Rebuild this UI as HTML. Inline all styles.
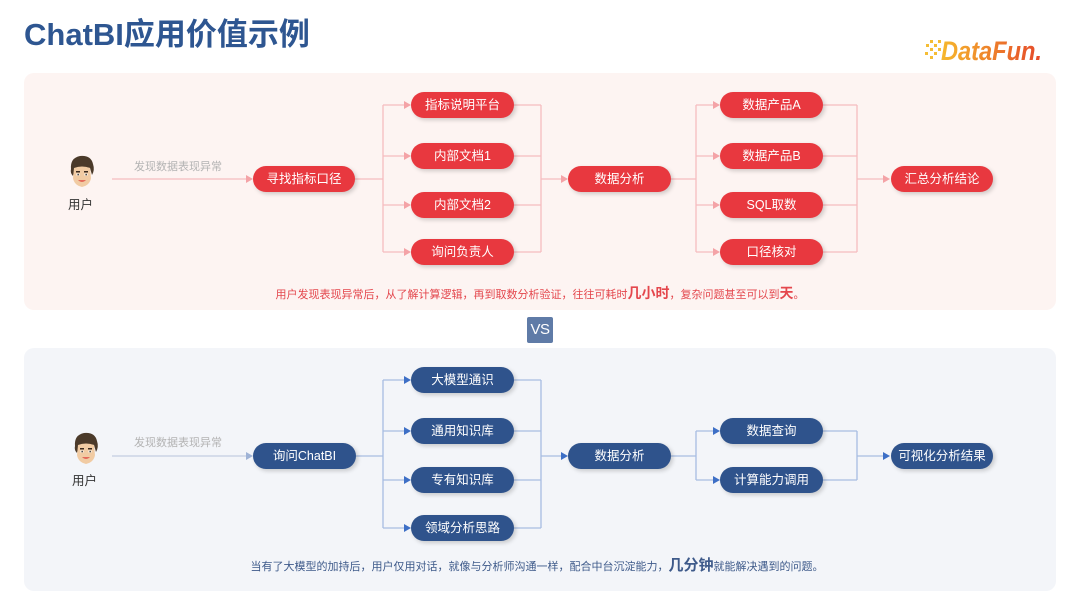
<!DOCTYPE html>
<html><head><meta charset="utf-8">
<style>
*{margin:0;padding:0;box-sizing:border-box}
body{width:1080px;height:608px;background:#fff;position:relative;overflow:hidden;font-family:"Liberation Sans","Noto Sans CJK SC",sans-serif}
.abs{position:absolute}
.panel{position:absolute;border-radius:10px}
.n{position:absolute;height:26px;border-radius:13px;color:#fff;font-size:12.5px;line-height:26px;text-align:center;white-space:nowrap;box-shadow:2px 2px 4px rgba(0,0,0,0.18)}
.r{background:#e8383f}
.b{background:#2f538c}
.lbl{position:absolute;font-size:11px;color:#b3b3b3;white-space:nowrap}
.user{position:absolute;font-size:12.5px;color:#333;white-space:nowrap}
</style></head>
<body>
<div class="abs" style="left:24px;top:15px;font-size:31px;font-weight:bold;color:#2e5691;white-space:nowrap;line-height:40px">ChatBI应用价值示例</div>

<!-- logo -->
<svg class="abs" style="left:920px;top:30px" width="130" height="40" viewBox="0 0 130 40">
<defs><linearGradient id="lg" x1="0" x2="1" y1="0" y2="0"><stop offset="0" stop-color="#f6b82c"/><stop offset="1" stop-color="#e5482a"/></linearGradient></defs>
<g fill="#f5bd35">
<rect x="6" y="14" width="3" height="3"/><rect x="10" y="10" width="3" height="3"/><rect x="14" y="14" width="3" height="3"/>
<rect x="10" y="18" width="3" height="3"/><rect x="5" y="22" width="3" height="3"/><rect x="14" y="22" width="3" height="3"/>
<rect x="18" y="10" width="3" height="3"/><rect x="18" y="18" width="3" height="3"/><rect x="10" y="26" width="3" height="3"/>
</g>
<text x="21" y="30" font-family="Liberation Sans, sans-serif" font-size="27" font-weight="bold" font-style="italic" fill="url(#lg)" textLength="101" lengthAdjust="spacingAndGlyphs">DataFun.</text>
</svg>

<div class="panel" style="left:24px;top:73px;width:1032px;height:237px;background:#fdf4f2"></div>
<div class="panel" style="left:24px;top:348px;width:1032px;height:243px;background:#f3f5f9"></div>

<div class="abs" style="left:527px;top:317px;width:26px;height:26px;background:#5f7ba7;border-radius:2px;color:#fff;font-size:15px;line-height:26px;text-align:center;letter-spacing:-0.5px">VS</div>

<svg class="abs" style="left:0;top:0" width="1080" height="608">
<g stroke="#f6bcbf" stroke-width="1.3" fill="none">
<path d="M112 179H247"/>
<path d="M355 179H383M383 105V252M383 105H405M383 156H405M383 205H405M383 252H405"/>
<path d="M514 105H541M514 156H541M514 205H541M514 252H541M541 105V252M541 179H562"/>
<path d="M671 179H696M696 105V252M696 105H714M696 156H714M696 205H714M696 252H714"/>
<path d="M823 105H857M823 156H857M823 205H857M823 252H857M857 105V252M857 179H884"/>
</g>
<g fill="#f4a3a7">
<polygon points="253,179 246,175 246,183"/>
<polygon points="411,105 404,101 404,109"/><polygon points="411,156 404,152 404,160"/><polygon points="411,205 404,201 404,209"/><polygon points="411,252 404,248 404,256"/>
<polygon points="568,179 561,175 561,183"/>
<polygon points="720,105 713,101 713,109"/><polygon points="720,156 713,152 713,160"/><polygon points="720,205 713,201 713,209"/><polygon points="720,252 713,248 713,256"/>
<polygon points="890,179 883,175 883,183"/>
</g>
<g stroke="#a7bde2" stroke-width="1.3" fill="none">
<path d="M112 456H247" stroke="#d5dcea" stroke-width="2"/>
<path d="M356 456H383M383 380V528M383 380H405M383 431H405M383 480H405M383 528H405"/>
<path d="M514 380H541M514 431H541M514 480H541M514 528H541M541 380V528M541 456H562"/>
<path d="M671 456H696M696 431V480M696 431H714M696 480H714"/>
<path d="M823 431H857M823 480H857M857 431V480M857 456H884"/>
</g>
<g fill="#3d6fc6">
<polygon points="253,456 246,452 246,460" fill="#9fb3d6"/>
<polygon points="411,380 404,376 404,384"/><polygon points="411,431 404,427 404,435"/><polygon points="411,480 404,476 404,484"/><polygon points="411,528 404,524 404,532"/>
<polygon points="568,456 561,452 561,460"/>
<polygon points="720,431 713,427 713,435"/><polygon points="720,480 713,476 713,484"/>
<polygon points="890,456 883,452 883,460"/>
</g>
<!-- persons -->
<g transform="translate(68,156)">
<path d="M3 13 Q2 2 12 0 Q23 -1 25 8 Q27 14 24 19 L22 12 Q14 10 7 12 L5 20 Q2 17 3 13Z" fill="#4b3a2a"/>
<path d="M6 12 Q14 9 22 12 L23 22 Q22 29 14 31 Q6 29 5 22Z" fill="#f1cba3"/>
<rect x="8" y="15" width="4" height="1.5" fill="#3a2a1e"/><rect x="16" y="15" width="4" height="1.5" fill="#3a2a1e"/>
<rect x="8.5" y="17.5" width="3" height="2" fill="#fff"/><rect x="16.5" y="17.5" width="3" height="2" fill="#fff"/>
<rect x="9.5" y="17.8" width="1.3" height="1.5" fill="#222"/><rect x="17.5" y="17.8" width="1.3" height="1.5" fill="#222"/>
<path d="M10 24 Q14 28 18 24Z" fill="#e46a5a"/>
</g>
<g transform="translate(72,433)">
<path d="M3 13 Q2 2 12 0 Q23 -1 25 8 Q27 14 24 19 L22 12 Q14 10 7 12 L5 20 Q2 17 3 13Z" fill="#4b3a2a"/>
<path d="M6 12 Q14 9 22 12 L23 22 Q22 29 14 31 Q6 29 5 22Z" fill="#f1cba3"/>
<rect x="8" y="15" width="4" height="1.5" fill="#3a2a1e"/><rect x="16" y="15" width="4" height="1.5" fill="#3a2a1e"/>
<rect x="8.5" y="17.5" width="3" height="2" fill="#fff"/><rect x="16.5" y="17.5" width="3" height="2" fill="#fff"/>
<rect x="9.5" y="17.8" width="1.3" height="1.5" fill="#222"/><rect x="17.5" y="17.8" width="1.3" height="1.5" fill="#222"/>
<path d="M10 24 Q14 28 18 24Z" fill="#e46a5a"/>
</g>
</svg>

<div class="user" style="left:68px;top:194px">用户</div>
<div class="user" style="left:72px;top:470px">用户</div>
<div class="lbl" style="left:134px;top:158px">发现数据表现异常</div>
<div class="lbl" style="left:134px;top:434px">发现数据表现异常</div>

<!-- top nodes -->
<div class="n r" style="left:253px;top:166px;width:102px">寻找指标口径</div>
<div class="n r" style="left:411px;top:92px;width:103px">指标说明平台</div>
<div class="n r" style="left:411px;top:143px;width:103px">内部文档1</div>
<div class="n r" style="left:411px;top:192px;width:103px">内部文档2</div>
<div class="n r" style="left:411px;top:239px;width:103px">询问负责人</div>
<div class="n r" style="left:568px;top:166px;width:103px">数据分析</div>
<div class="n r" style="left:720px;top:92px;width:103px">数据产品A</div>
<div class="n r" style="left:720px;top:143px;width:103px">数据产品B</div>
<div class="n r" style="left:720px;top:192px;width:103px">SQL取数</div>
<div class="n r" style="left:720px;top:239px;width:103px">口径核对</div>
<div class="n r" style="left:891px;top:166px;width:102px">汇总分析结论</div>

<div class="abs" style="left:0;width:1080px;top:284px;text-align:center;font-size:11px;color:#e4474d;white-space:nowrap;line-height:18px">用户发现表现异常后，从了解计算逻辑，再到取数分析验证，往往可耗时<b style="font-size:14px">几小时</b>，复杂问题甚至可以到<b style="font-size:14px">天</b>。</div>

<!-- bottom nodes -->
<div class="n b" style="left:253px;top:443px;width:103px">询问ChatBI</div>
<div class="n b" style="left:411px;top:367px;width:103px">大模型通识</div>
<div class="n b" style="left:411px;top:418px;width:103px">通用知识库</div>
<div class="n b" style="left:411px;top:467px;width:103px">专有知识库</div>
<div class="n b" style="left:411px;top:515px;width:103px">领域分析思路</div>
<div class="n b" style="left:568px;top:443px;width:103px">数据分析</div>
<div class="n b" style="left:720px;top:418px;width:103px">数据查询</div>
<div class="n b" style="left:720px;top:467px;width:103px">计算能力调用</div>
<div class="n b" style="left:891px;top:443px;width:102px">可视化分析结果</div>

<div class="abs" style="left:0;width:1074px;top:557px;text-align:center;font-size:11px;color:#3e5a8a;white-space:nowrap;line-height:18px">当有了大模型的加持后，用户仅用对话，就像与分析师沟通一样，配合中台沉淀能力，<b style="font-size:15px">几分钟</b>就能解决遇到的问题。</div>
</body></html>
